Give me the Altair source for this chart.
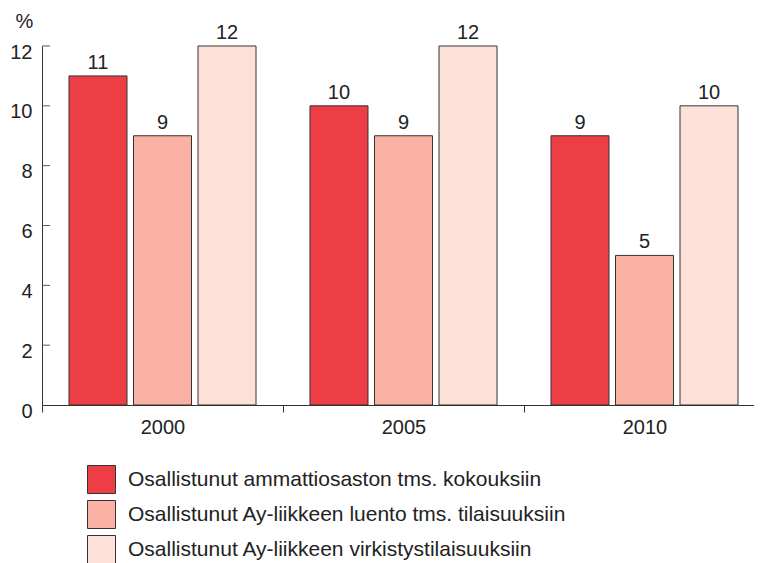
import altair as alt
import pandas as pd

years = ["2000", "2005", "2010"]
series = [
    "Osallistunut ammattiosaston tms. kokouksiin",
    "Osallistunut Ay-liikkeen luento tms. tilaisuuksiin",
    "Osallistunut Ay-liikkeen virkistystilaisuuksiin",
]
values_s1 = [11, 10, 9]
values_s2 = [9, 9, 5]
values_s3 = [12, 12, 10]
colors = ["#EE3E45", "#F9B2A4", "#FDE1D8"]
y_ticks = [0, 2, 4, 6, 8, 10, 12]

rows = []
for s, vals in zip(series, [values_s1, values_s2, values_s3]):
    for y, v in zip(years, vals):
        rows.append({"year": y, "series": s, "value": v})
df = pd.DataFrame(rows)
ticks_df = pd.DataFrame({"value": y_ticks[1:]})

FONT = "Liberation Sans"
TXT = "#222222"

x_enc = alt.X("year:N", sort=years,
              scale=alt.Scale(paddingInner=0, paddingOuter=0, range=[0, 723]),
              axis=alt.Axis(title=None, labelAngle=0, labelFontSize=20, labelColor=TXT,
                            tickBand="extent", tickSize=7, tickColor="#333333",
                            labelPadding=5, domainColor="#333333"))
xoff_enc = alt.XOffset("series:N", sort=series,
                       scale=alt.Scale(paddingInner=0.1008, paddingOuter=0.4186))
y_scale = alt.Scale(domain=[0, 12], nice=False)

bars = alt.Chart(df).mark_bar(stroke="#333333", strokeWidth=1).encode(
    x=x_enc,
    xOffset=xoff_enc,
    y=alt.Y("value:Q", scale=y_scale,
            axis=alt.Axis(values=y_ticks, ticks=False, grid=False, labelFontSize=20,
                          labelColor=TXT, labelPadding=10, labelOffset=6,
                          domainColor="#333333", title="%", titleAngle=0,
                          titleX=-18, titleY=-19, titleAlign="center",
                          titleBaseline="alphabetic", titleFontSize=20,
                          titleFontWeight="normal", titleColor=TXT)),
    fill=alt.Fill("series:N", sort=series,
                  scale=alt.Scale(domain=series, range=colors),
                  legend=alt.Legend(orient="none", legendX=45, legendY=419, title=None,
                                    symbolType="square", symbolSize=784,
                                    symbolStrokeColor="#333333", symbolStrokeWidth=1,
                                    labelFontSize=21, labelColor=TXT, labelOffset=12,
                                    rowPadding=2, padding=0, labelLimit=0,
                                    direction="vertical")),
)

labels = alt.Chart(df).mark_text(baseline="alphabetic", dy=-7, fontSize=20, color=TXT).encode(
    x=alt.X("year:N", sort=years),
    xOffset=alt.XOffset("series:N", sort=series),
    y=alt.Y("value:Q"),
    text=alt.Text("value:Q"),
)

inner_ticks = alt.Chart(ticks_df).mark_rule(color="#555555", strokeWidth=1).encode(
    x=alt.value(0),
    x2=alt.value(8),
    y=alt.Y("value:Q"),
)

chart = alt.layer(bars, labels, inner_ticks).properties(
    width=712, height=359,
    padding={"left": 34, "top": 38, "right": 0, "bottom": 170},
    autosize="none",
    background="white",
).configure(font=FONT).configure_view(stroke="transparent", strokeWidth=0)

chart.save("out.html", embed_options={"renderer": "svg", "actions": False})
